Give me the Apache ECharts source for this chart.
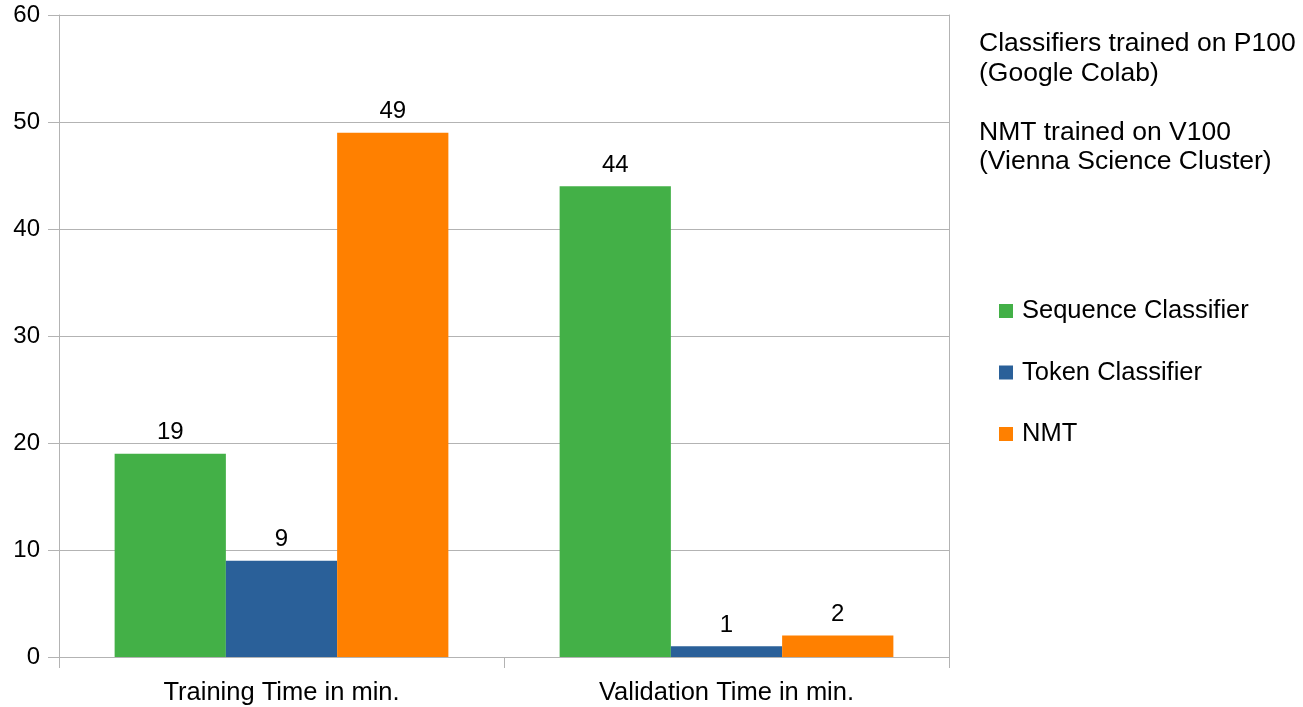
<!DOCTYPE html>
<html>
<head>
<meta charset="utf-8">
<script src="https://cdn.jsdelivr.net/npm/echarts@6/dist/echarts.min.js"></script>
<style>
  html, body { margin: 0; padding: 0; background: #fff; }
  #chart { width: 1303px; height: 707px; }
</style>
</head>
<body>
<div id="chart"></div>
<script>
// Run times (minutes) per phase
const categories = ['Training Time in min.', 'Validation Time in min.'];
const seriesNames = ['Sequence Classifier', 'Token Classifier', 'NMT'];
const sequenceClassifier = [19, 44];
const tokenClassifier = [9, 1];
const nmt = [49, 2];
const seriesColors = ['#43b047', '#2a6099', '#ff8000'];
const noteText = 'Classifiers trained on P100\n(Google Colab)\n\nNMT trained on V100\n(Vienna Science Cluster)';

const FONT = 'Liberation Sans';
const GRID_COLOR = '#b3b3b3';
const values = [sequenceClassifier, tokenClassifier, nmt];

const chart = echarts.init(document.getElementById('chart'));
chart.setOption({
  animation: false,
  backgroundColor: '#ffffff',
  textStyle: { fontFamily: FONT },
  title: {
    text: noteText,
    left: 979,
    top: 29,
    padding: 0,
    textStyle: { fontFamily: FONT, fontSize: 26.5, fontWeight: 'normal', color: '#000', lineHeight: 29.5 }
  },
  legend: {
    orient: 'vertical',
    left: 999,
    top: 298,
    padding: 0,
    itemWidth: 14,
    itemHeight: 14,
    itemGap: 35.5,
    icon: 'rect',
    data: seriesNames,
    textStyle: { fontFamily: FONT, fontSize: 25.5, color: '#000', lineHeight: 24, padding: [0, 0, 0, 4] }
  },
  grid: { left: 59, right: 354, top: 15, bottom: 50, containLabel: false },
  xAxis: {
    type: 'category',
    data: categories,
    axisLine: { show: true, lineStyle: { color: GRID_COLOR, width: 1 } },
    axisTick: { show: true, length: 11, lineStyle: { color: GRID_COLOR } },
    axisLabel: { fontFamily: FONT, fontSize: 25.5, color: '#000', margin: 23 }
  },
  yAxis: [{
    type: 'value',
    min: 0,
    max: 60,
    interval: 10,
    axisLine: { show: true, lineStyle: { color: GRID_COLOR, width: 1 } },
    axisTick: { show: true, length: 11, lineStyle: { color: GRID_COLOR } },
    axisLabel: { fontFamily: FONT, fontSize: 24, color: '#000', margin: 19 },
    splitLine: { show: true, lineStyle: { color: GRID_COLOR, width: 1 } }
  }, {
    type: 'value',
    position: 'right',
    min: 0,
    max: 60,
    interval: 10,
    axisLine: { show: true, lineStyle: { color: GRID_COLOR, width: 1 } },
    axisTick: { show: false },
    axisLabel: { show: false },
    splitLine: { show: false }
  }],
  series: seriesNames.map((name, i) => ({
    name: name,
    type: 'bar',
    data: values[i],
    barGap: '0%',
    barCategoryGap: '25%',
    itemStyle: { color: seriesColors[i] },
    label: {
      show: true,
      position: 'top',
      distance: 9,
      fontFamily: FONT,
      fontSize: 24,
      color: '#000'
    }
  }))
});
</script>
</body>
</html>
